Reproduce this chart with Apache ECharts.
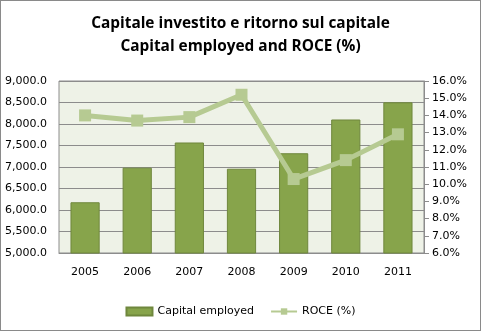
<!DOCTYPE html>
<html>
<head>
<meta charset="utf-8">
<script src="https://cdn.jsdelivr.net/npm/echarts@6/dist/echarts.min.js"></script>
<style>
  html, body { margin: 0; padding: 0; background: #fff; }
  #chart { width: 479px; height: 329px; border: 1px solid #8a8a8a; }
</style>
</head>
<body>
<div id="chart"></div>
<script>
// Capital employed (bars, left axis) and ROCE % (line, right axis)
const years = ['2005', '2006', '2007', '2008', '2009', '2010', '2011'];
const capitalEmployed = [6180, 6985, 7570, 6960, 7320, 8105, 8505];
const roce = [14.0, 13.7, 13.9, 15.2, 10.3, 11.4, 12.9];

const axisFont = { fontFamily: 'DejaVu Sans', fontSize: 11, color: '#000' };

const chart = echarts.init(document.getElementById('chart'));
chart.setOption({
  animation: false,
  backgroundColor: '#ffffff',
  title: {
    text: 'Capitale investito e ritorno sul capitale\nCapital employed and ROCE (%)',
    left: 'center',
    top: 6,
    textStyle: {
      fontFamily: 'Open Sans',
      fontWeight: 'bold',
      fontSize: 15.4,
      lineHeight: 23,
      color: '#000'
    }
  },
  legend: {
    bottom: 8,
    left: 'center',
    itemGap: 16,
    itemWidth: 26,
    itemHeight: 8,
    textStyle: { fontFamily: 'DejaVu Sans', fontSize: 11, color: '#000' },
    data: [
      { name: 'Capital employed', icon: 'rect' },
      { name: 'ROCE (%)' }
    ]
  },
  grid: {
    left: 58,
    right: 56,
    top: 80,
    bottom: 77,
    show: true,
    backgroundColor: '#eef2e7',
    borderColor: '#8c8c8c',
    borderWidth: 1
  },
  xAxis: {
    type: 'category',
    data: years,
    axisTick: { show: false },
    axisLine: { lineStyle: { color: '#8c8c8c' } },
    axisLabel: Object.assign({ margin: 14 }, axisFont)
  },
  yAxis: [
    {
      type: 'value',
      min: 5000,
      max: 9000,
      interval: 500,
      axisLine: { show: false },
      axisTick: { show: false },
      splitLine: { lineStyle: { color: '#8c8c8c', width: 1 } },
      axisLabel: Object.assign({
        margin: 12,
        formatter: v => v.toLocaleString('en-US', { minimumFractionDigits: 1, maximumFractionDigits: 1 })
      }, axisFont)
    },
    {
      type: 'value',
      min: 6,
      max: 16,
      interval: 1,
      position: 'right',
      axisLine: { show: true, lineStyle: { color: '#8c8c8c' } },
      axisTick: { show: true, length: 5, lineStyle: { color: '#8c8c8c' } },
      splitLine: { show: false },
      axisLabel: Object.assign({
        margin: 8,
        formatter: v => v.toFixed(1) + '%'
      }, axisFont)
    }
  ],
  series: [
    {
      name: 'Capital employed',
      type: 'bar',
      yAxisIndex: 0,
      data: capitalEmployed,
      barWidth: '56%',
      itemStyle: { color: '#87a44b', borderColor: '#6f873d', borderWidth: 1 }
    },
    {
      name: 'ROCE (%)',
      type: 'line',
      yAxisIndex: 1,
      data: roce,
      symbol: 'rect',
      symbolSize: 12,
      lineStyle: { color: '#b6ca92', width: 5 },
      itemStyle: { color: '#b6ca92' }
    }
  ]
});
</script>
</body>
</html>
